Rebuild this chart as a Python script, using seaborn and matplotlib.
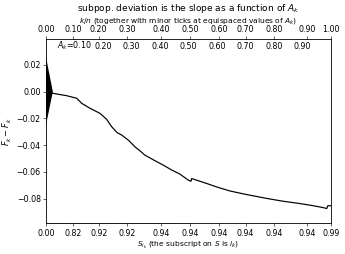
import numpy as np
import pandas as pd
import matplotlib
matplotlib.use('Agg')
import matplotlib.pyplot as plt
import seaborn as sns

# cumulative deviation curve
ak = [0.0, 0.0235, 0.0726, 0.1077, 0.1253, 0.1544, 0.1895, 0.213, 0.2305,
      0.2502, 0.2656, 0.2888, 0.3123, 0.3298, 0.347, 0.38, 0.4116, 0.44,
      0.470, 0.4993, 0.5088, 0.5112, 0.5639, 0.599, 0.6456, 0.70, 0.7754,
      0.83, 0.891, 0.94, 0.972, 0.985, 0.989, 1.0]
deviation = [0.0, -0.0012, -0.0030, -0.0049, -0.0087, -0.0124, -0.0162, -0.0207,
             -0.0262, -0.0307, -0.0324, -0.0362, -0.0412, -0.0442, -0.0474,
             -0.0513, -0.0549, -0.0584, -0.0616, -0.0661, -0.0669, -0.0649,
             -0.0686, -0.0712, -0.0742, -0.0767, -0.0798, -0.0818, -0.0836,
             -0.0853, -0.0866, -0.0873, -0.0852, -0.0852]

# scale indicator (double arrow head at the origin)
arrow_x = [0.0, 0.024, 0.0]
arrow_y = [0.0258, 0.0, -0.0249]

# major ticks (positions in A_k where k/n = 0, 0.1, ..., 1)
major_pos = [0.0, 0.095, 0.185, 0.285, 0.404, 0.507, 0.608, 0.700, 0.800, 0.915, 1.0]
top_labels = ['0.00', '0.10', '0.20', '0.30', '0.40', '0.50', '0.60', '0.70',
              '0.80', '0.90', '1.00']
bottom_labels = ['0.00', '0.82', '0.92', '0.92', '0.94', '0.94', '0.94', '0.94',
                 '0.94', '0.94', '0.99']

# minor ticks on top: equispaced values of A_k
minor_top = [0.1, 0.2, 0.3, 0.4, 0.5, 0.6, 0.7, 0.8, 0.9]
minor_top_labels = ['$A_k$=0.10', '0.20', '0.30', '0.40', '0.50', '0.60',
                    '0.70', '0.80', '0.90']

# minor ticks on bottom: the scores
rug = [0.003, 0.007, 0.012, 0.016, 0.021, 0.025, 0.031, 0.036, 0.040, 0.046,
       0.051, 0.055, 0.061, 0.066, 0.070, 0.077, 0.082, 0.088, 0.093, 0.099,
       0.104, 0.110, 0.114, 0.120, 0.126, 0.131, 0.137, 0.142, 0.148, 0.153,
       0.159, 0.166, 0.171, 0.177, 0.183, 0.188, 0.194, 0.201, 0.206, 0.212,
       0.218, 0.224, 0.229, 0.236, 0.241, 0.247, 0.254, 0.259, 0.265, 0.271,
       0.278, 0.284, 0.290, 0.297, 0.303, 0.310, 0.317, 0.324, 0.331, 0.338,
       0.345, 0.353, 0.361, 0.368, 0.376, 0.385, 0.394, 0.403, 0.412, 0.421,
       0.431, 0.441, 0.452, 0.463, 0.475, 0.488, 0.960, 0.975, 0.990]

df = pd.DataFrame({'A': ak, 'dev': deviation})

plt.rcParams['xtick.labelsize'] = 10.5
plt.rcParams['ytick.labelsize'] = 10.5

fig = plt.figure(figsize=(6.4, 4.712), dpi=345 / 6.4)
ax = fig.add_axes([46 / 345, 30.5 / 254, 285 / 345, 184 / 254])

sns.lineplot(data=df, x='A', y='dev', ax=ax, color='k', linewidth=1.6,
             estimator=None, sort=False)
ax.fill(arrow_x, arrow_y, color='k', linewidth=0)

ax.set_xlim(0, 1)
ax.set_ylim(-0.0985, 0.039)
ax.set_yticks([-0.08, -0.06, -0.04, -0.02, 0.00, 0.02])
ax.set_xticks(major_pos)
ax.set_xticklabels(bottom_labels)
ax.set_xticks(rug, minor=True)
ax.set_xlabel('$S_{i_k}$ (the subscript on $S$ is $i_k$)', labelpad=3)
ax.set_ylabel(r'$F_k - \tilde{F}_k$', fontsize=11, labelpad=3)

ax2 = ax.twiny()
ax2.xaxis.remove_overlapping_locs = False
ax2.set_xlim(0, 1)
ax2.set_xticks(major_pos)
ax2.set_xticklabels(top_labels)
ax2.set_xticks(minor_top, minor=True)
ax2.set_xticklabels(minor_top_labels, minor=True)
ax2.tick_params(which='minor', axis='x', direction='in', pad=-12.5)
for lab in ax2.get_xticklabels(minor=True):
    lab.set_va('baseline')
ax2.set_xlabel('$k/n$ (together with minor ticks at equispaced values of $A_k$)')
ax2.set_title('subpop. deviation is the slope as a function of $A_k$')

fig.savefig('out.png', dpi=fig.dpi)
